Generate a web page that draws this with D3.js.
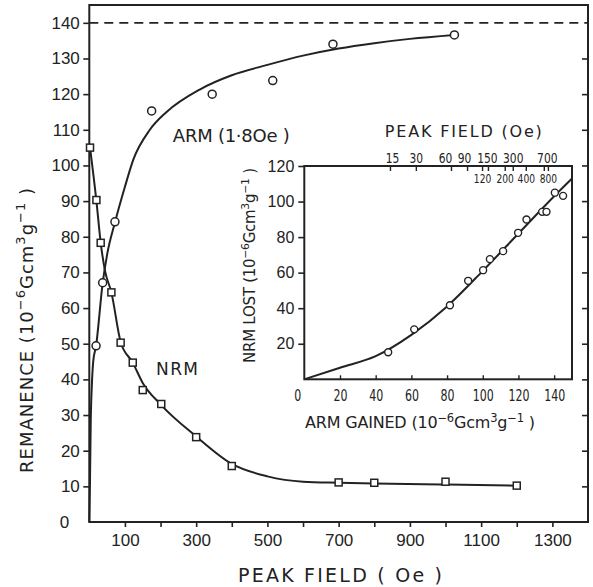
<!DOCTYPE html>
<html>
<head>
<meta charset="utf-8">
<script src="https://cdn.jsdelivr.net/npm/d3@7/dist/d3.min.js"></script>
<style>
body { margin: 0; background: #fff; }
svg text { fill: #222; }
</style>
</head>
<body>
<div id="chart"></div>
<script>
// main chart: remanence vs peak field
var nrmField = [2, 20, 32, 62, 88, 122, 150, 202, 300, 400, 700, 800, 1000, 1200]
var nrmValue = [105, 90.3, 78.3, 64.4, 50.3, 44.7, 37, 33.1, 23.8, 15.7, 11.1, 11, 11.3, 10.2]
var armField = [19, 37.5, 72, 175, 345, 515, 684, 1025]
var armValue = [49.4, 67.1, 84.2, 115.3, 120, 123.8, 134, 136.6]

// fitted curves
var nrmCurveField = [2, 20, 32, 44, 62, 88, 122, 150, 200, 300, 400, 500, 600, 700, 800, 1000, 1200]
var nrmCurveValue = [105, 90, 78.3, 70.5, 64.4, 50.5, 44.7, 39, 33, 24, 16.3, 12.8, 11.3, 11, 10.8, 10.5, 10.2]
var armCurveField = [0, 2, 4, 7, 11, 19, 37.5, 50, 72, 100, 123, 170, 217, 310, 400, 500, 600, 700, 800, 900, 1025]
var armCurveValue = [0, 12, 28, 38, 45, 49.4, 67, 75, 84, 94, 101.5, 110, 115, 121.3, 125.3, 128.2, 130.8, 132.8, 134.3, 135.5, 136.6]
var armSaturation = 140

var yTicks = [0, 10, 20, 30, 40, 50, 60, 70, 80, 90, 100, 110, 120, 130, 140]
var xTicks = [100, 200, 300, 400, 500, 600, 700, 800, 900, 1000, 1100, 1200, 1300]
var xTickLabels = [100, 300, 500, 700, 900, 1100, 1300]

// inset: NRM lost vs ARM gained
var insetArm = [47, 61.6, 81.6, 91.8, 100.2, 104, 111.4, 119.8, 124.5, 133.3, 135.7, 140.4, 145]
var insetNrmLost = [15.2, 28.1, 41.7, 55.4, 61.4, 67.6, 72.1, 82.4, 89.9, 94.2, 94.2, 105, 103.2]
var insetCurveArm = [0, 20, 40, 60, 80, 100, 120, 140, 150]
var insetCurveNrm = [0, 6.5, 13, 25, 41, 61, 82, 103, 113]
var insetYTicks = [20, 40, 60, 80, 100, 120]
var insetXTicks = [0, 20, 40, 60, 80, 100, 120, 140]
// peak field scale on top of inset (ARM gained at that field)
var upperFields = [15, 30, 60, 90, 150, 300, 700]
var upperFieldArm = [48, 62.5, 82.2, 91.2, 102.9, 116.8, 134.2]
var lowerFields = [120, 200, 400, 800]
var lowerFieldArm = [99.6, 112.3, 124.1, 136.5]

var ink = '#222'
var numFont = "'Liberation Sans', Arial, sans-serif"
var narrowFont = "'DejaVu Sans Condensed', 'Liberation Sans', sans-serif"
var titleFont = "'DejaVu Sans', sans-serif"

var width = 593, height = 587
var svg = d3.select('#chart').append('svg').attr('width', width).attr('height', height)

var x = d3.scaleLinear().domain([0, 1400]).range([89.3, 588])
var y = d3.scaleLinear().domain([0, 145]).range([522, 5])

// frame
svg.append('rect').attr('x', x(0)).attr('y', y(145))
  .attr('width', x(1400) - x(0)).attr('height', y(0) - y(145))
  .attr('fill', 'none').attr('stroke', ink).attr('stroke-width', 2)

var gy = svg.append('g').attr('transform', 'translate(' + x(0) + ',0)')
  .call(d3.axisLeft(y).tickValues(yTicks).tickSize(6).tickPadding(3.5))
gy.select('.domain').remove()
gy.selectAll('line').attr('stroke', ink).attr('stroke-width', 1.6)
gy.selectAll('text').attr('font-size', 17).attr('font-family', numFont).style('fill', ink)
gy.selectAll('.tick').filter(function(d) {return d === 0}).select('line').remove()
gy.selectAll('.tick').filter(function(d) {return d === 0}).select('text').attr('x', -20)

var gr = svg.append('g').attr('transform', 'translate(' + x(1400) + ',0)')
  .call(d3.axisRight(y).tickValues(yTicks.slice(1, -1)).tickSize(-6).tickFormat(''))
gr.select('.domain').remove()
gr.selectAll('line').attr('stroke', ink).attr('stroke-width', 1.6)

var gx = svg.append('g').attr('transform', 'translate(0,' + y(0) + ')')
  .call(d3.axisBottom(x).tickValues(xTicks).tickSize(5).tickPadding(7)
    .tickFormat(function(d) {return xTickLabels.indexOf(d) >= 0 ? d : ''}))
gx.select('.domain').remove()
gx.selectAll('line').attr('stroke', ink).attr('stroke-width', 1.6)
gx.selectAll('text').attr('font-size', 17).attr('font-family', numFont).style('fill', ink)

// saturation line
svg.append('line').attr('x1', x(0)).attr('x2', x(1400)).attr('y1', y(armSaturation)).attr('y2', y(armSaturation))
  .attr('stroke', ink).attr('stroke-width', 1.6).attr('stroke-dasharray', '9,6')

var line = d3.line().curve(d3.curveMonotoneX)

var nrmCurve = nrmCurveField.map(function(f, i) {return [x(f), y(nrmCurveValue[i])]})
var armCurve = armCurveField.map(function(f, i) {return [x(f), y(armCurveValue[i])]})
svg.append('path').attr('d', line(nrmCurve)).attr('fill', 'none').attr('stroke', ink).attr('stroke-width', 2)
svg.append('path').attr('d', line(armCurve)).attr('fill', 'none').attr('stroke', ink).attr('stroke-width', 2)

svg.append('g').selectAll('rect')
  .data(nrmField).join('rect')
  .attr('x', function(d) {return x(d) - 3.5})
  .attr('y', function(d, i) {return y(nrmValue[i]) - 3.5})
  .attr('width', 7).attr('height', 7)
  .attr('fill', '#fff').attr('stroke', ink).attr('stroke-width', 1.5)

svg.append('g').selectAll('circle')
  .data(armField).join('circle')
  .attr('cx', function(d) {return x(d)})
  .attr('cy', function(d, i) {return y(armValue[i])})
  .attr('r', 4).attr('fill', '#fff').attr('stroke', ink).attr('stroke-width', 1.5)

// text with superscripts, parts = [[text, isSup], ...]
function label(parts, size, len, transform) {
  var t = svg.append('text').attr('font-family', titleFont).attr('font-size', size)
    .attr('text-anchor', 'middle').attr('transform', transform)
    .attr('textLength', len).attr('lengthAdjust', 'spacing')
  var shift = 0
  parts.forEach(function(p) {
    var target = p[1] ? -size * 0.42 : 0
    t.append('tspan').text(p[0])
      .attr('dy', target - shift)
      .attr('font-size', p[1] ? size * 0.72 : size)
    shift = target
  })
  return t
}
var unitParts = [['(10', 0], ['\u22126', 1], ['Gcm', 0], ['3', 1], ['g', 0], ['\u22121', 1], [' )', 0]]

label([['PEAK FIELD ( Oe )', 0]], 19, 204, 'translate(340,581.5)')
label([['REMANENCE ', 0]].concat(unitParts), 18, 285, 'translate(33,330.5) rotate(-90)')
label([['ARM (1\u00b78Oe )', 0]], 18, 117, 'translate(231.3,141.7)')
label([['NRM', 0]], 17, 42, 'translate(177,375)')

// inset
var ix = d3.scaleLinear().domain([0, 150]).range([304.3, 572])
var iy = d3.scaleLinear().domain([0, 120]).range([379.3, 166])

svg.append('rect').attr('x', ix(0)).attr('y', iy(120))
  .attr('width', ix(150) - ix(0)).attr('height', iy(0) - iy(120))
  .attr('fill', '#fff').attr('stroke', ink).attr('stroke-width', 2)

var iyAxis = svg.append('g').attr('transform', 'translate(' + ix(0) + ',0)')
  .call(d3.axisLeft(iy).tickValues(insetYTicks).tickSize(6).tickPadding(4))
iyAxis.select('.domain').remove()
iyAxis.selectAll('line').attr('stroke', ink).attr('stroke-width', 1.6)
iyAxis.selectAll('text').attr('font-size', 16).attr('font-family', numFont).style('fill', ink)

// squeeze narrow numerals to the width they have in the figure
function squeeze(sel, perDigit) {
  sel.attr('textLength', function() {return this.textContent.length * perDigit})
    .attr('lengthAdjust', 'spacingAndGlyphs')
}

var ixAxis = svg.append('g').attr('transform', 'translate(0,' + iy(0) + ')')
  .call(d3.axisBottom(ix).tickValues(insetXTicks).tickSize(-4).tickPadding(10.5))
ixAxis.select('.domain').remove()
ixAxis.selectAll('line').attr('stroke', ink).attr('stroke-width', 1.4)
ixAxis.selectAll('text').attr('font-size', 16).attr('font-family', narrowFont).style('fill', ink)
  .call(squeeze, 7)
ixAxis.selectAll('.tick').filter(function(d) {return d === 0}).select('line').remove()
ixAxis.selectAll('.tick').filter(function(d) {return d === 0}).select('text').attr('x', -7)

var upperDx = [2, 0, -6, -3, -1, 0, 3]
var topAxis = svg.append('g').attr('transform', 'translate(0,' + iy(120) + ')')
  .call(d3.axisTop(ix).tickValues(upperFieldArm).tickSize(-5).tickPadding(3.3)
    .tickFormat(function(d, i) {return upperFields[i]}))
topAxis.select('.domain').remove()
topAxis.selectAll('line').attr('stroke', ink).attr('stroke-width', 1.4)
topAxis.selectAll('text').attr('font-size', 14).attr('font-family', narrowFont).style('fill', ink)
  .attr('x', function(d, i) {return upperDx[i]})
  .call(squeeze, 6.8)

var lowAxis = svg.append('g').attr('transform', 'translate(0,' + iy(120) + ')')
  .call(d3.axisBottom(ix).tickValues(lowerFieldArm).tickSize(5).tickPadding(2.8)
    .tickFormat(function(d, i) {return lowerFields[i]}))
lowAxis.select('.domain').remove()
lowAxis.selectAll('line').attr('stroke', ink).attr('stroke-width', 1.4)
lowAxis.selectAll('text').attr('font-size', 13).attr('font-family', narrowFont).style('fill', ink)
  .call(squeeze, 5.8)

var insetCurve = insetCurveArm.map(function(a, i) {return [ix(a), iy(insetCurveNrm[i])]})
svg.append('path').attr('d', line(insetCurve)).attr('fill', 'none').attr('stroke', ink).attr('stroke-width', 2)

svg.append('g').selectAll('circle')
  .data(insetArm).join('circle')
  .attr('cx', function(d) {return ix(d)})
  .attr('cy', function(d, i) {return iy(insetNrmLost[i])})
  .attr('r', 3.5).attr('fill', '#fff').attr('stroke', ink).attr('stroke-width', 1.4)

label([['PEAK FIELD (Oe)', 0]], 16, 157, 'translate(463.3,136.7)')
label([['ARM  GAINED ', 0]].concat(unitParts), 16, 230, 'translate(420,428.3)')
label([['NRM LOST ', 0]].concat(unitParts), 15, 195, 'translate(255,265.5) rotate(-90)')
</script>
</body>
</html>
